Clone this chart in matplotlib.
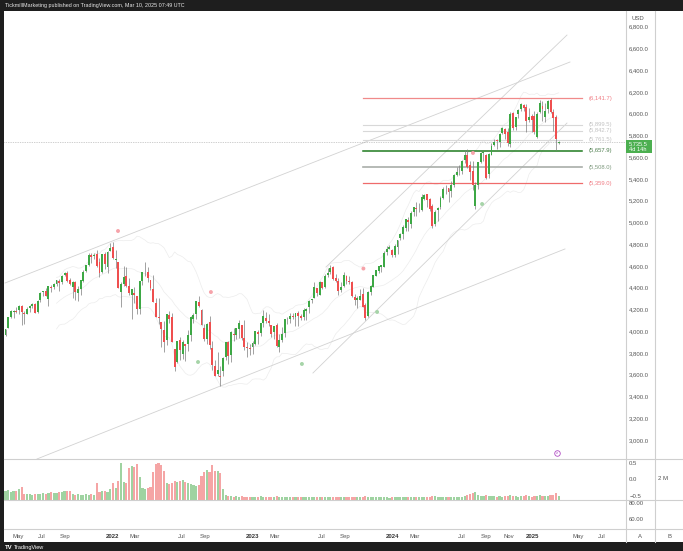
import numpy as np
import pandas as pd
import matplotlib
matplotlib.use("Agg")
import matplotlib.pyplot as plt
from matplotlib.patches import Rectangle
from matplotlib.lines import Line2D

plt.rcParams['font.family'] = ['Liberation Sans', 'DejaVu Sans']

# ---------------- data ----------------
start_date = "2021-03-29"   # weekly bars (Mondays)

opens = [3969,4034,4130,4179,4185,4191,4229,4170,4160,4216,
         4230,4248,4174,4285,4356,4372,4297,4410,4407,4437,
         4461,4450,4513,4535,4474,4402,4450,4348,4385,4464,
         4553,4610,4702,4689,4712,4640,4548,4710,4588,4733,
         4778,4655,4632,4357,4432,4506,4412,4332,4354,4327,
         4202,4462,4541,4547,4474,4385,4255,4130,4081,4013,
         3920,4151,4134,3838,3716,3920,3793,3880,3883,3965,
         4113,4155,4269,4195,4034,3930,4084,3849,3682,3610,
         3591,3638,3765,3901,3780,3977,3966,4023,4053,3940,
         3853,3843,3854,3884,3990,3979,4071,4119,4096,4059,
         3992,4055,3856,3917,3982,4102,4110,4138,4134,4166,
         4136,4127,4190,4227,4283,4308,4396,4337,4451,4405,
         4515,4543,4590,4492,4460,4380,4412,4510,4462,4453,
         4310,4284,4290,4342,4239,4139,4364,4406,4511,4555,
         4594,4594,4725,4759,4745,4704,4772,4853,4892,4950,
         5026,4989,5093,5131,5111,5114,5219,5257,5211,5150,
         4987,5115,5142,5221,5305,5315,5284,5341,5432,5460,
         5472,5573,5616,5527,5476,5152,5345,5557,5637,5624,
         5442,5615,5712,5757,5737,5823,5857,5833,5723,6008,
         5874,5992,6040,6083,6064,5941,5979,5982,5781,6014,
         6068,5969,6046,6121,6013,5969,5728]

highs = [4020,4130,4191,4195,4218,4238,4245,4187,4220,4238,
         4255,4262,4286,4356,4372,4394,4415,4429,4442,4470,
         4481,4514,4546,4549,4487,4466,4465,4418,4475,4560,
         4608,4718,4715,4718,4744,4672,4713,4731,4741,4808,
         4819,4749,4632,4453,4595,4590,4490,4386,4402,4327,
         4465,4546,4637,4593,4475,4513,4308,4308,4082,4091,
         4158,4190,4168,3838,3913,3946,3919,3880,4012,4140,
         4167,4280,4325,4204,4062,4076,4140,3907,3733,3807,
         3683,3762,3905,3911,4001,4029,4034,4100,4053,4101,
         3902,3878,3906,4003,4015,4079,4195,4176,4156,4059,
         4048,4079,3975,4040,4110,4133,4164,4170,4170,4186,
         4155,4213,4213,4291,4299,4448,4400,4458,4456,4528,
         4578,4607,4595,4528,4491,4448,4542,4514,4511,4466,
         4339,4320,4386,4394,4256,4366,4421,4521,4561,4596,
         4610,4739,4779,4794,4755,4803,4842,4904,4975,5030,
         5049,5104,5140,5189,5180,5262,5265,5264,5222,5168,
         5114,5138,5239,5325,5342,5315,5376,5448,5506,5524,
         5570,5667,5670,5567,5567,5367,5555,5643,5651,5626,
         5636,5734,5767,5765,5822,5879,5863,5863,6013,6018,
         5972,6044,6099,6088,6085,6050,5992,6022,6012,6128,
         6120,6101,6128,6147,6044,5986,5752]

lows = [3955,4034,4124,4119,4166,4160,4057,4062,4155,4180,
        4217,4164,4167,4271,4321,4322,4234,4360,4385,4415,
        4368,4437,4505,4456,4426,4306,4289,4279,4330,4448,
        4545,4595,4630,4665,4586,4495,4532,4575,4531,4733,
        4663,4582,4395,4223,4415,4402,4337,4115,4258,4157,
        4162,4425,4506,4450,4381,4267,4129,4062,3859,3811,
        3875,4074,3901,3637,3705,3739,3743,3722,3819,3913,
        4079,4112,4218,4057,3907,3887,3838,3647,3584,3590,
        3492,3591,3740,3699,3720,3907,3933,3937,3918,3828,
        3764,3783,3794,3872,3885,3960,4037,4080,4048,3944,
        3928,3855,3809,3900,3951,4069,4072,4114,4050,4049,
        4099,4099,4103,4167,4261,4304,4328,4329,4385,4393,
        4502,4528,4474,4450,4335,4357,4410,4431,4438,4316,
        4238,4216,4284,4223,4104,4127,4330,4404,4510,4538,
        4546,4594,4697,4752,4682,4678,4714,4842,4845,4918,
        4920,4946,5057,5057,5092,5104,5203,5146,5107,4953,
        4970,5011,5127,5212,5257,5191,5234,5325,5424,5433,
        5446,5542,5498,5390,5302,5120,5306,5548,5561,5403,
        5406,5615,5698,5674,5697,5813,5762,5703,5696,5853,
        5853,5956,6027,6024,5832,5921,5829,5809,5773,6001,
        5932,5923,6003,6009,5837,5666,5716]

closes = [4020,4129,4185,4180,4181,4233,4174,4156,4204,4230,
          4247,4166,4281,4352,4370,4327,4412,4395,4437,4468,
          4442,4509,4535,4459,4433,4455,4357,4391,4471,4545,
          4605,4698,4683,4698,4595,4538,4712,4621,4726,4766,
          4677,4663,4398,4432,4501,4419,4349,4385,4329,4204,
          4463,4543,4546,4488,4393,4272,4132,4123,4024,3901,
          4158,4109,3901,3675,3912,3825,3899,3863,3962,4130,
          4145,4280,4229,4058,3924,4067,3873,3693,3586,3640,
          3583,3753,3901,3771,3993,3965,4026,4072,3934,3852,
          3845,3840,3895,3999,3973,4071,4137,4091,4079,3970,
          4046,3862,3917,3971,4109,4105,4138,4134,4169,4136,
          4124,4192,4205,4282,4299,4410,4348,4450,4399,4505,
          4536,4582,4478,4464,4370,4406,4516,4458,4450,4320,
          4288,4309,4328,4224,4117,4358,4415,4514,4559,4595,
          4604,4719,4755,4770,4697,4784,4840,4891,4959,5027,
          5006,5089,5137,5124,5117,5234,5254,5204,5123,4967,
          5100,5128,5223,5303,5305,5278,5347,5432,5465,5460,
          5567,5615,5505,5459,5347,5344,5554,5635,5648,5408,
          5626,5703,5738,5751,5815,5865,5808,5729,5996,5871,
          5969,6032,6090,6051,5931,5971,5942,5827,5997,6101,
          6041,6026,6115,6013,5955,5770,5735.5]

volumes = [0.85,0.95,0.8,0.9,0.9,1.0,1.2,0.6,0.55,0.6,
           0.5,0.6,0.55,0.6,0.65,0.6,0.7,0.75,0.7,0.65,
           0.75,0.8,0.9,0.85,0.9,0.55,0.5,0.55,0.5,0.5,
           0.55,0.5,0.55,0.5,1.6,0.8,0.9,0.85,0.8,1.0,
           1.6,1.1,1.8,3.5,1.7,1.6,3.0,3.2,3.1,3.4,
           2.2,1.1,1.0,1.1,1.2,2.7,3.4,3.5,3.3,2.8,
           1.6,1.5,1.6,1.8,1.7,1.8,1.9,1.7,1.6,1.5,
           1.4,1.3,1.4,2.3,2.7,2.9,2.7,3.3,2.8,2.8,
           2.6,1.0,0.45,
           0.35,0.4,0.3,0.35,0.3,0.35,0.3,0.28,0.25,0.3,0.32,0.3,0.35,0.33,0.3,0.28,0.3,
           0.33,0.36,0.32,0.3,0.28,0.25,0.26,0.24,0.27,0.28,0.26,0.27,0.25,0.28,0.26,0.3,0.27,0.28,0.26,0.25,
           0.26,0.27,0.3,0.28,0.32,0.29,0.3,0.27,0.26,0.3,0.28,0.29,0.3,0.32,0.35,0.3,0.28,0.26,0.25,0.26,
           0.27,0.28,0.27,0.22,0.28,0.29,0.27,0.26,0.28,0.27,0.26,0.28,0.3,0.3,0.32,0.3,0.28,0.3,0.33,0.4,
           0.35,0.3,0.28,0.26,0.27,0.25,0.27,0.28,0.27,0.26,0.3,0.38,0.45,0.55,0.65,0.75,0.5,0.42,0.4,0.45,
           0.4,0.38,0.35,0.33,0.34,0.33,0.36,0.4,0.45,0.38,0.35,0.33,0.36,0.38,0.45,0.35,0.32,0.4,0.42,0.45,
           0.4,0.42,0.38,0.45,0.5,0.65,0.35]

# Fibonacci / horizontal levels
fib_levels = [6141.7, 5899.5, 5842.7, 5761.5, 5657.9, 5508.0, 5359.0]
fib_labels = ["(6,141.7)", "(5,899.5)", "(5,842.7)", "(5,761.5)", "(5,657.9)", "(5,508.0)", "(5,359.0)"]
fib_start_bar, fib_end_bar, fib_label_bar = 133.1, 214.7, 217.0

# trend lines (bar index, price)
trend_x0 = [-0.19, 11.73, 119.37, 114.5]
trend_p0 = [4443, 2826, 4590, 3616]
trend_x1 = [210.24, 208.38, 209.12, 209.12]
trend_p1 = [6474, 4756, 6722, 5913]

# pivot markers (bar index, price)
pivot_high_x = [41.9, 76.5, 133.3, 174.1]
pivot_high_p = [4921, 4360, 4576, 5638]
pivot_low_x = [71.7, 110.4, 138.4, 177.5]
pivot_low_p = [3717, 3699, 4177, 5169]
event_x, event_p = 205.4, 2881

tick_dates = ["2021-05-01", "2021-07-01", "2021-09-01", "2022-01-01", "2022-03-01", "2022-07-01",
              "2022-09-01", "2023-01-01", "2023-03-01", "2023-07-01", "2023-09-01", "2024-01-01",
              "2024-03-01", "2024-07-01", "2024-09-01", "2024-11-01", "2025-01-01", "2025-05-01",
              "2025-07-01"]
tick_labels = ["May", "Jul", "Sep", "2022", "Mar", "Jul", "Sep", "2023", "Mar", "Jul", "Sep", "2024",
               "Mar", "Jul", "Sep", "Nov", "2025", "May", "Jul"]

price_ticks = list(range(3000, 6801, 200))

# ---------------- figure ----------------
W, H = 683, 551
fig = plt.figure(figsize=(W / 100, H / 100), dpi=100, facecolor='#1e1e1e')

def fx(px):
    return px / W

def fy(py):
    return 1 - py / H

fig.patches.append(Rectangle((fx(4), fy(542)), 1 - fx(4), fy(11) - fy(542),
                             transform=fig.transFigure, facecolor='white', edgecolor='none', zorder=-5))

L, R = 4, 626
ax = fig.add_axes([fx(L), fy(459), fx(R) - fx(L), fy(11) - fy(459)])
axv = fig.add_axes([fx(L), fy(500), fx(R) - fx(L), fy(459) - fy(500)])
axl = fig.add_axes([fx(L), fy(529), fx(R) - fx(L), fy(500) - fy(529)])

n = len(closes)
x = np.arange(n)
o = np.array(opens, float); h = np.array(highs, float)
l = np.array(lows, float); c = np.array(closes, float)
up = c >= o
GREEN, RED = '#3da845', '#ef4f4f'
cols = np.where(up, GREEN, RED)

xlim = (-0.56, 231.1)
for a in (ax, axv, axl):
    a.set_xlim(*xlim)
    a.set_facecolor('none')
    for s in a.spines.values():
        s.set_visible(False)
ax.set_ylim(2825.6, 6942.8)

# Bollinger-style envelope (20-week)
cs = pd.Series(c)
mid = cs.rolling(20).mean()
sd = cs.rolling(20).std()
for series in (mid + 2 * sd, mid, mid - 2 * sd):
    ax.plot(x, series, color='#ececec', lw=0.5, zorder=1)

# trend lines
for x0, p0, x1, p1 in zip(trend_x0, trend_p0, trend_x1, trend_p1):
    ax.plot([x0, x1], [p0, p1], color='#d2d2d2', lw=0.6, zorder=1.5)

# fib levels
fib_line_cols = ['#f08a8a', '#d8d8d8', '#d8d8d8', '#d8d8d8', '#1f7a1f', '#a9aea9', '#ef6b6b']
fib_lws = [0.9, 0.8, 0.8, 0.8, 1.1, 1.2, 0.9]
fib_txt_cols = ['#f07c84', '#c2c2c2', '#c2c2c2', '#c2c2c2', '#4f7f4f', '#7f9a7f', '#f07c84']
for lev, lab, lc, lw, tc in zip(fib_levels, fib_labels, fib_line_cols, fib_lws, fib_txt_cols):
    ax.plot([fib_start_bar, fib_end_bar], [lev, lev], color=lc, lw=lw, zorder=2)
    ax.text(fib_label_bar, lev, lab, color=tc, fontsize=4.2, va='center', ha='left', zorder=3)

# last price dotted line
ax.axhline(c[-1], color='#a0a0a0', lw=0.5, ls=(0, (1, 1.5)), zorder=1.8)

# candles
ax.vlines(x, l, h, color='#7c7c7c', lw=0.5, zorder=3)
body_bottom = np.minimum(o, c)
body_h = np.maximum(np.abs(c - o), 4)
ax.bar(x, body_h, bottom=body_bottom, width=0.72, color=cols, edgecolor='none', zorder=4)

# pivots
ax.scatter(pivot_high_x, pivot_high_p, s=8, color='#f6a3aa', edgecolor='none', zorder=5)
ax.scatter(pivot_low_x, pivot_low_p, s=8, color='#a6d4a8', edgecolor='none', zorder=5)
ax.scatter([event_x], [event_p], s=16, facecolor='white', edgecolor='#b04cc4', lw=0.6, zorder=5, clip_on=False)
ax.text(event_x, event_p, 'ƨ', color='#b04cc4', fontsize=3, ha='center', va='center', zorder=6, clip_on=False)

ax.set_xticks([])
ax.yaxis.tick_right()
ax.set_yticks(price_ticks)
ax.set_yticklabels([f"{v:,.1f}" for v in price_ticks])
ax.tick_params(axis='y', length=0, pad=2.3, labelsize=4.3, labelcolor='#555555')

# volume pane (volume overlaid on its own scale)
axv2 = axv.twinx()
axv2.set_ylim(0, 3.9)
axv2.set_xlim(*xlim)
axv2.set_yticks([])
for s in axv2.spines.values():
    s.set_visible(False)
vcols = np.where(up, '#9fd3a1', '#f5a5a5')
axv2.bar(x, volumes, width=0.8, color=vcols, edgecolor='none')

axv.set_ylim(-0.633, 0.62)
axv.set_xticks([])
axv.yaxis.tick_right()
axv.set_yticks([0.5, 0.0, -0.5])
axv.set_yticklabels(["0.5", "0.0", "\u22120.5"])
axv.tick_params(axis='y', left=False, labelleft=False, right=True, labelright=True,
                length=0, pad=2.3, labelsize=4.3, labelcolor='#555555')

# lower pane
axl.set_ylim(47.7, 83.3)
axl.yaxis.tick_right()
axl.set_yticks([80, 60])
axl.set_yticklabels(["80.00", "60.00"])
axl.tick_params(axis='y', length=0, pad=2.3, labelsize=4.3, labelcolor='#555555')
t0 = pd.Timestamp(start_date)
tick_pos = [(pd.Timestamp(d) - t0).days / 7 for d in tick_dates]
axl.set_xticks(tick_pos)
axl.set_xticklabels(tick_labels)
axl.tick_params(axis='x', length=0, pad=3.3, labelsize=4.3, labelcolor='#555555')
for tl in axl.get_xticklabels():
    if tl.get_text().startswith('20'):
        tl.set_fontweight('bold')
        tl.set_color('#333333')

# separators
sep = '#cfcfcf'
for py in (459, 500, 529):
    fig.add_artist(Line2D([fx(4), 1], [fy(py), fy(py)], color=sep, lw=0.8))
for px in (626, 655):
    fig.add_artist(Line2D([fx(px), fx(px)], [fy(542), fy(11)], color=sep, lw=0.8))

# current price box
disp_y = ax.transData.transform((0, c[-1]))[1]
py_last = H - disp_y
fig.patches.append(Rectangle((fx(626), fy(py_last + 11)), fx(652) - fx(626), 13 / H,
                             transform=fig.transFigure, facecolor='#4caf50', edgecolor='none', zorder=5))
fig.text(fx(629), fy(py_last + 1.2), f"{c[-1]:,.1f}", color='white', fontsize=4.1, va='center', ha='left', zorder=6)
fig.text(fx(629), fy(py_last + 7.4), "4d 14h", color='white', fontsize=4.1, va='center', ha='left', zorder=6)

# texts
fig.text(fx(5), fy(5.5), "TickmillMarketing published on TradingView.com, Mar 10, 2025 07:49 UTC",
         color='#e8e8e8', fontsize=3.9, va='center', ha='left')
fig.text(fx(632), fy(18.3), "USD", color='#555555', fontsize=4.3, va='center', ha='left')
fig.text(fx(663), fy(479), "2 M", color='#555555', fontsize=4.3, va='center', ha='center')
fig.text(fx(640), fy(536), "A", color='#555555', fontsize=4.3, va='center', ha='center')
fig.text(fx(669), fy(536), "B", color='#555555', fontsize=4.3, va='center', ha='center')
fig.text(fx(5), fy(547.5), "TV", color='white', fontsize=4.3, va='center', ha='left', fontweight='bold')
fig.text(fx(14), fy(547.5), "TradingView", color='white', fontsize=4.0, va='center', ha='left')

fig.savefig("out.png", dpi=100, facecolor=fig.get_facecolor())
